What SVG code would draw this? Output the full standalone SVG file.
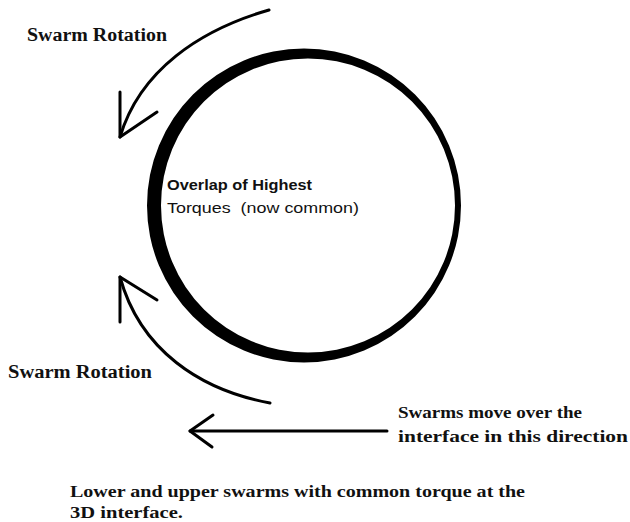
<svg xmlns="http://www.w3.org/2000/svg" width="630" height="522" viewBox="0 0 630 522">
<style>
.serif{font-family:"Liberation Serif","Times New Roman",serif;font-weight:bold;fill:#111}
.sans{font-family:"Liberation Sans",Arial,sans-serif;fill:#111}
.conn{fill:none;stroke:#000;stroke-width:3;stroke-linecap:round;stroke-linejoin:round}
</style>
<rect width="630" height="522" fill="#fff"/>
<g id="ring">
<path fill="#000" fill-rule="evenodd" d="M461,205.5 A157,157 0 1,1 147,205.5 A157,157 0 1,1 461,205.5 Z M455,205.5 A147,147 0 1,0 161,205.5 A147,147 0 1,0 455,205.5 Z"/>
</g>
<g id="center-label">
<text class="sans" font-weight="bold" font-size="15" x="167" y="190" textLength="145" lengthAdjust="spacingAndGlyphs">Overlap of Highest</text>
<text class="sans" font-size="15" x="167" y="213" textLength="192" lengthAdjust="spacingAndGlyphs" xml:space="preserve" style="white-space:pre">Torques  (now common)</text>
</g>
<g id="label-top"><text class="serif" font-size="18" x="27" y="41" textLength="140" lengthAdjust="spacingAndGlyphs">Swarm Rotation</text></g>
<g id="label-bottom"><text class="serif" font-size="18" x="8" y="378" textLength="144" lengthAdjust="spacingAndGlyphs">Swarm Rotation</text></g>
<g id="label-direction">
<text class="serif" font-size="17" x="398" y="418" textLength="184" lengthAdjust="spacingAndGlyphs">Swarms move over the</text>
<text class="serif" font-size="17" x="398" y="442" textLength="230" lengthAdjust="spacingAndGlyphs">interface in this direction</text>
</g>
<g id="caption">
<text class="serif" font-size="16" x="70" y="497" textLength="455" lengthAdjust="spacingAndGlyphs">Lower and upper swarms with common torque at the</text>
<text class="serif" font-size="16" x="70" y="518" textLength="113" lengthAdjust="spacingAndGlyphs">3D interface.</text>
</g>
<g id="connectors">
<path class="conn" d="M269,10 C200,30 140,70 120,137"/>
<path class="conn" d="M120,92 L120,137 L157,112"/>
<path class="conn" d="M270,403 C200,390 140,350 120,277"/>
<path class="conn" d="M120,322 L120,277 L157,300"/>
<path class="conn" d="M387,431 L190,431"/>
<path class="conn" d="M213,415 L190,431 L212,447"/>
</g>
</svg>
